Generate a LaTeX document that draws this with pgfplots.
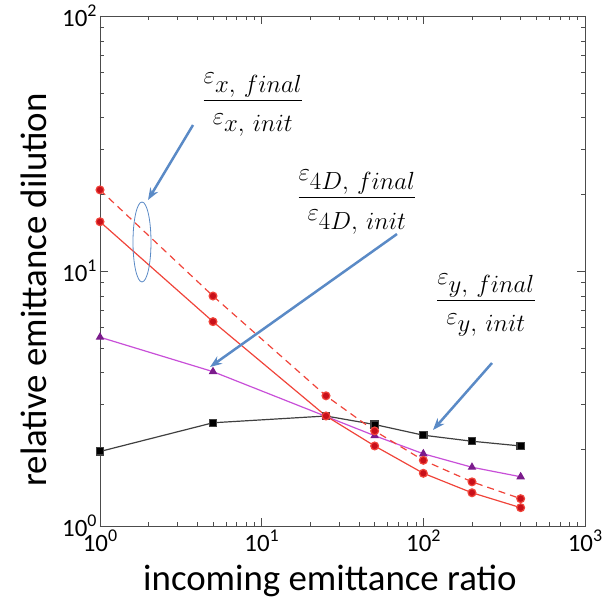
\documentclass[border=0pt]{standalone}
\usepackage{amsmath}
\usepackage{pgfplots}
\pgfplotsset{compat=1.18}
\usepackage{fontspec}
\setmainfont{Carlito}
\usetikzlibrary{arrows.meta}

\definecolor{redline}{HTML}{F0443A}
\definecolor{redmark}{HTML}{C8101A}
\definecolor{purpline}{HTML}{C84FD8}
\definecolor{purpmark}{HTML}{7B1C8C}
\definecolor{arrowblue}{HTML}{5A8AC6}

\newcommand{\sub}[1]{\mbox{\fontsize{28}{32}\selectfont$#1$}}
\newcommand{\fr}[1]{\fontsize{38}{44}\selectfont$\dfrac{\varepsilon_{\sub{#1,\,final}}}{\varepsilon_{\sub{#1,\,init}}}$}
\newcommand{\tl}[1]{10\raisebox{0.42em}{\fontsize{18}{20}\selectfont #1}}

\begin{document}
\begin{tikzpicture}
\begin{axis}[
    xmode=log, ymode=log,
    width=485bp, height=510bp, scale only axis,
    xmin=1, xmax=1000, ymin=1, ymax=100,
    xtick={1,10,100,1000},
    xticklabels={\tl{0},\tl{1},\tl{2},\tl{3}},
    ytick={1,10,100},
    yticklabels={\tl{0},\tl{1},\tl{2}},
    tick label style={font=\fontsize{25}{28}\selectfont},
    label style={font=\fontsize{37}{42}\selectfont},
    xlabel={incoming emittance ratio},
    ylabel={relative emittance dilution},
    xlabel style={at={(axis description cs:0.474,-0.108)}, anchor=center},
    ylabel style={at={(axis description cs:-0.136,0.463)}, anchor=center},
    tick align=inside,
    major tick length=8bp, minor tick length=4bp,
    axis line style={black!70},
    every tick/.style={black!70},
]
% eps_y
\addplot[black!75, line width=1.2bp, mark=square*, mark size=3.6bp, mark options={fill=black}]
  coordinates {(1,1.96) (5,2.54) (25,2.70) (50,2.50) (100,2.27) (200,2.15) (400,2.06)};
% eps_4D
\addplot[purpline, line width=1.2bp, mark=triangle*, mark size=3.8bp, mark options={fill=purpmark, draw=purpmark}]
  coordinates {(1,5.50) (5,4.03) (25,2.69) (50,2.26) (100,1.92) (200,1.70) (400,1.56)};
% eps_x (solid)
\addplot[redline, line width=1.2bp, mark=*, mark size=3.9bp, mark options={fill=redmark, draw=redline}]
  coordinates {(1,15.6) (5,6.33) (25,2.70) (50,2.06) (100,1.61) (200,1.35) (400,1.18)};
% eps_x (dashed)
\addplot[redline, line width=1.2bp, dash pattern=on 7bp off 5bp, mark=*, mark size=3.9bp, mark options={solid, fill=redmark, draw=redline}]
  coordinates {(1,20.8) (5,7.98) (25,3.24) (50,2.36) (100,1.81) (200,1.49) (400,1.28)};

\node at (rel axis cs:0.3155,0.8255) {\fr{x}};
\node at (rel axis cs:0.5299,0.6353) {\fr{4D}};
\node at (rel axis cs:0.7959,0.4333) {\fr{y}};

\draw[arrowblue, line width=2.5bp, -{Stealth[length=12bp,width=9bp]}]
  (rel axis cs:0.1918,0.7863) -- (rel axis cs:0.0990,0.6392);
\draw[arrowblue, line width=2.5bp, -{Stealth[length=12bp,width=9bp]}]
  (rel axis cs:0.6124,0.5725) -- (rel axis cs:0.2268,0.3118);
\draw[arrowblue, line width=2.5bp, -{Stealth[length=12bp,width=9bp]}]
  (rel axis cs:0.8082,0.3196) -- (rel axis cs:0.6866,0.1882);
\draw[arrowblue, line width=0.8bp] (rel axis cs:0.0866,0.5569) ellipse [x radius=9bp, y radius=40bp];

\coordinate (bl) at (rel axis cs:0,0);
\coordinate (tr) at (rel axis cs:1,1);
\end{axis}
\pgfresetboundingbox
\useasboundingbox ([xshift=-100bp,yshift=-77bp]bl) rectangle ([xshift=20bp,yshift=16bp]tr);
\end{tikzpicture}
\end{document}
